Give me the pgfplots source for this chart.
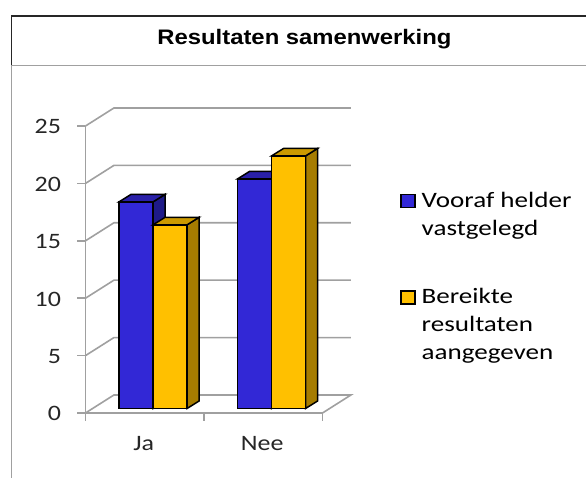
\documentclass[border=0pt]{standalone}
\usepackage{fontspec}
\setmainfont{Carlito}
\newfontfamily\lab[FakeStretch=1.18]{Carlito}
\newfontfamily\leg[FakeStretch=1.23]{Carlito}
\newfontfamily\ttl[FakeStretch=1.135]{Liberation Sans}
\usepackage{pgfplots}
\pgfplotsset{compat=1.18}
\definecolor{bf}{HTML}{3228D6}
\definecolor{bs}{HTML}{1E1A88}
\definecolor{bt}{HTML}{2A20A8}
\definecolor{of}{HTML}{FFC000}
\definecolor{os}{HTML}{A67C00}
\definecolor{ot}{HTML}{CC9A00}
\definecolor{gl}{HTML}{A0A0A0}
\begin{document}
\begin{tikzpicture}[x=1pt,y=1pt]
\useasboundingbox (0,0) rectangle (586,478);
\draw[line width=1.8pt,black!85] (586,462) -- (11.5,462) -- (11.5,413);
\draw[line width=1.6pt,gl] (586,412.5) -- (11.5,412.5) -- (11.5,0);
\node[font=\ttl\bfseries\fontsize{21}{24}\selectfont,anchor=base] at (304.5,433.5) {Resultaten samenwerking};
\begin{axis}[
  at={(85.5pt,65pt)},anchor=origin,
  scale only axis,width=237pt,height=287pt,
  xmin=0.5,xmax=2.5,ymin=0,ymax=25,
  clip=false,
  axis x line*=bottom,axis y line*=left,
  axis line style={gl,line width=1.6pt,-},
  tick style={gl,line width=1.6pt},
  tick align=outside,
  major tick length=8pt,
  minor tick length=8pt,
  xtick={1,2},xticklabels={Ja,Nee},
  minor xtick={0.5,1.5,2.5},
  x tick style={draw=none},
  minor x tick style={gl,line width=1.6pt,draw=gl},
  ytick={0,5,10,15,20,25},
  /pgf/number format/assume math mode=true,
  tick label style={font=\lab\fontsize{22}{24}\selectfont,text=black!85},
  y tick label style={xshift=-13pt,yshift=-0.8pt},
  x tick label style={yshift=-12pt,xshift=-1pt},
  legend style={at={(314.5pt,226.5pt)},anchor=north west,draw=none,fill=none,
    font=\leg\fontsize{22}{28}\selectfont,
    cells={anchor=base west},
    row sep=73pt,inner sep=0pt,nodes={inner sep=1pt}},
  legend cell align=left,
]
% back wall and floor
\addplot[gl,line width=1.6pt,forget plot] coordinates {(0.5,25) (0.74,26.57) (2.74,26.57)};
\addplot[gl,line width=1.6pt,forget plot] coordinates {(0.5,20) (0.74,21.57) (2.74,21.57)};
\addplot[gl,line width=1.6pt,forget plot] coordinates {(0.5,15) (0.74,16.57) (2.74,16.57)};
\addplot[gl,line width=1.6pt,forget plot] coordinates {(0.5,10) (0.74,11.57) (2.74,11.57)};
\addplot[gl,line width=1.6pt,forget plot] coordinates {(0.5,5) (0.74,6.57) (2.74,6.57)};
\addplot[gl,line width=1.6pt,forget plot] coordinates {(0.5,0) (0.74,1.57) (2.74,1.57) (2.5,0)};
% blue depth faces
\addplot[forget plot,fill=bs,draw=black,line width=1.5pt,xshift=8.3pt,yshift=4.5pt] coordinates {(1,0) (1.101,0.65) (1.101,18.65) (1,18)} -- cycle;
\addplot[forget plot,fill=bt,draw=black,line width=1.5pt,xshift=8.3pt,yshift=4.5pt] coordinates {(0.713,18) (1,18) (1.101,18.65) (0.814,18.65)} -- cycle;
\addplot[forget plot,fill=bs,draw=black,line width=1.5pt,xshift=8.3pt,yshift=4.5pt] coordinates {(2,0) (2.101,0.65) (2.101,20.65) (2,20)} -- cycle;
\addplot[forget plot,fill=bt,draw=black,line width=1.5pt,xshift=8.3pt,yshift=4.5pt] coordinates {(1.713,20) (2,20) (2.101,20.65) (1.814,20.65)} -- cycle;
% blue front
\addplot[ybar,bar width=34pt,bar shift=-17pt,fill=bf,draw=black,line width=1.5pt,xshift=8.3pt,yshift=4.5pt,
  legend image code/.code={\draw[fill=bf,draw=black,line width=1.5pt] (0,-14pt) rectangle (14pt,-1pt);}]
  coordinates {(1,18) (2,20)};
\addlegendentry{\begin{tabular}[t]{@{\hspace{5pt}}l@{}}Vooraf helder\\vastgelegd\end{tabular}}
% orange depth faces
\addplot[forget plot,fill=os,draw=black,line width=1.5pt,xshift=8.3pt,yshift=4.5pt] coordinates {(1.287,0) (1.388,0.65) (1.388,16.65) (1.287,16)} -- cycle;
\addplot[forget plot,fill=ot,draw=black,line width=1.5pt,xshift=8.3pt,yshift=4.5pt] coordinates {(1,16) (1.287,16) (1.388,16.65) (1.101,16.65)} -- cycle;
\addplot[forget plot,fill=os,draw=black,line width=1.5pt,xshift=8.3pt,yshift=4.5pt] coordinates {(2.287,0) (2.388,0.65) (2.388,22.65) (2.287,22)} -- cycle;
\addplot[forget plot,fill=ot,draw=black,line width=1.5pt,xshift=8.3pt,yshift=4.5pt] coordinates {(2,22) (2.287,22) (2.388,22.65) (2.101,22.65)} -- cycle;
% orange front
\addplot[ybar,bar width=34pt,bar shift=17pt,fill=of,draw=black,line width=1.5pt,xshift=8.3pt,yshift=4.5pt,
  legend image code/.code={\draw[fill=of,draw=black,line width=1.5pt] (0,-14pt) rectangle (14pt,-1pt);}]
  coordinates {(1,16) (2,22)};
\addlegendentry{\begin{tabular}[t]{@{\hspace{5pt}}l@{}}Bereikte\\resultaten\\aangegeven\end{tabular}}
\end{axis}
\end{tikzpicture}
\end{document}
